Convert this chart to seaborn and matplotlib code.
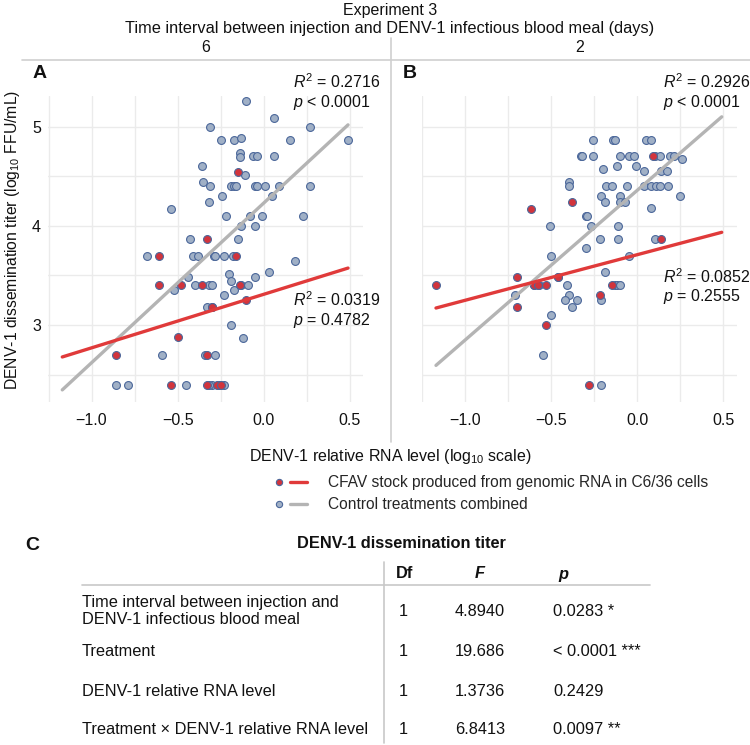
import numpy as np
import pandas as pd
import matplotlib
matplotlib.use("Agg")
import matplotlib.pyplot as plt
import seaborn as sns
from matplotlib.lines import Line2D
from matplotlib.legend_handler import HandlerTuple

# ---- data ----
# panel A (6 days)
a_ctrl_x = [-0.10, -0.31, 0.06, 0.27, -0.25, -0.17, -0.13, 0.15, 0.49, -0.14, -0.14, -0.06, -0.04, 0.06,
            -0.36, -0.11, -0.35, -0.31, -0.19, -0.17, -0.16, -0.05, -0.04, 0.01, 0.09, 0.27, 0.05, -0.24,
            -0.32, -0.54, -0.22, -0.08, -0.01, 0.23, -0.13, -0.05, -0.43, -0.15, -0.68, -0.41, -0.38, -0.29,
            -0.28, -0.23, -0.18, 0.18, -0.20, -0.44, -0.05, 0.03, -0.19, -0.40, -0.32, -0.30, -0.13, -0.09,
            -0.52, -0.17, -0.23, -0.33, -0.30, -0.19, -0.12, -0.59, -0.34, -0.28, -0.86, -0.79, -0.45, -0.30,
            -0.26, -0.23, -0.32]
a_ctrl_y = [5.26, 5.00, 5.09, 5.00, 4.87, 4.87, 4.89, 4.87, 4.87, 4.74, 4.69, 4.70, 4.70, 4.70,
            4.60, 4.51, 4.44, 4.40, 4.40, 4.40, 4.40, 4.40, 4.40, 4.40, 4.40, 4.40, 4.30, 4.30,
            4.24, 4.17, 4.10, 4.10, 4.10, 4.10, 4.00, 4.00, 3.87, 3.87, 3.70, 3.70, 3.70, 3.70,
            3.70, 3.70, 3.70, 3.65, 3.51, 3.48, 3.48, 3.54, 3.44, 3.40, 3.40, 3.40, 3.40, 3.40,
            3.35, 3.35, 3.30, 3.18, 3.18, 3.00, 2.87, 2.70, 2.70, 2.70, 2.40, 2.40, 2.40, 2.40,
            2.40, 2.40, 2.40]
a_cfav_x = [-0.15, -0.33, -0.61, -0.16, -0.61, -0.48, -0.36, -0.14, -0.10, -0.30, -0.50, -0.86, -0.33,
            -0.54, -0.33, -0.27, -0.25]
a_cfav_y = [4.54, 3.87, 3.70, 3.70, 3.40, 3.40, 3.40, 3.40, 3.25, 3.18, 2.88, 2.70, 2.70,
            2.40, 2.40, 2.40, 2.40]

# panel B (2 days)
b_ctrl_x = [-0.26, -0.14, -0.13, 0.05, 0.08, -0.33, -0.32, -0.26, -0.10, -0.05, -0.02, 0.10, 0.13, 0.19,
            0.21, 0.26, -0.20, -0.12, -0.01, 0.04, 0.14, 0.17, -0.40, -0.40, -0.18, -0.15, -0.06, 0.04,
            0.08, 0.11, 0.13, 0.18, 0.25, -0.21, -0.10, -0.19, -0.10, -0.07, 0.08, -0.30, -0.29, -0.51,
            -0.27, -0.11, -0.22, -0.11, 0.10, -0.30, -0.50, -0.05, -0.19, -0.46, -0.41, -0.60, -0.57, -0.13,
            -0.12, -0.10, -0.71, -0.40, -0.42, -0.35, -0.21, -0.38, -0.50, -0.55, -0.21]
b_ctrl_y = [4.87, 4.87, 4.87, 4.87, 4.87, 4.70, 4.70, 4.70, 4.70, 4.70, 4.70, 4.70, 4.70, 4.70,
            4.70, 4.67, 4.57, 4.60, 4.60, 4.55, 4.55, 4.55, 4.44, 4.40, 4.40, 4.40, 4.40, 4.40,
            4.40, 4.40, 4.40, 4.40, 4.30, 4.30, 4.30, 4.24, 4.24, 4.24, 4.18, 4.10, 4.10, 4.00,
            4.00, 4.00, 3.87, 3.87, 3.87, 3.78, 3.70, 3.70, 3.54, 3.48, 3.40, 3.40, 3.40, 3.40,
            3.40, 3.40, 3.30, 3.30, 3.25, 3.25, 3.25, 3.18, 3.10, 2.70, 2.40]
b_cfav_x = [0.09, -0.38, -0.62, 0.14, -0.46, -0.70, -1.17, -0.60, -0.58, -0.53, -0.15, -0.22, -0.70,
            -0.53, -0.28]
b_cfav_y = [4.70, 4.24, 4.17, 3.87, 3.48, 3.48, 3.40, 3.40, 3.40, 3.40, 3.40, 3.30, 3.18,
            3.00, 2.40]

# fitted lines (intercept, slope) per panel / group
fit_intercept = {"A": {"cfav": 3.31, "ctrl": 4.23}, "B": {"cfav": 3.71, "ctrl": 4.36}}
fit_slope = {"A": {"cfav": 0.54, "ctrl": 1.61}, "B": {"cfav": 0.46, "ctrl": 1.51}}
stats_top = {"A": ("0.2716", "< 0.0001"), "B": ("0.2926", "< 0.0001")}
stats_low = {"A": ("0.0319", "= 0.4782"), "B": ("0.0852", "= 0.2555")}
intervals = {"A": "6", "B": "2"}

# ANOVA table
tab_terms = ["Time interval between injection and\nDENV-1 infectious blood meal", "Treatment",
             "DENV-1 relative RNA level", "Treatment \u00d7 DENV-1 relative RNA level"]
tab_df = ["1", "1", "1", "1"]
tab_F = ["4.8940", "19.686", "1.3736", "6.8413"]
tab_p = ["0.0283 *", "< 0.0001 ***", "0.2429", "0.0097 **"]

legend_labels = ["CFAV stock produced from genomic RNA in C6/36 cells", "Control treatments combined"]

frames = []
for panel, (cx, cy, rx, ry) in {"A": (a_ctrl_x, a_ctrl_y, a_cfav_x, a_cfav_y),
                                 "B": (b_ctrl_x, b_ctrl_y, b_cfav_x, b_cfav_y)}.items():
    frames.append(pd.DataFrame({"x": cx, "y": cy, "group": "ctrl", "panel": panel}))
    frames.append(pd.DataFrame({"x": rx, "y": ry, "group": "cfav", "panel": panel}))
df = pd.concat(frames, ignore_index=True)

# ---- style ----
sns.set_theme(style="white")
plt.rcParams["font.family"] = ["Liberation Sans", "DejaVu Sans"]
plt.rcParams["mathtext.fontset"] = "custom"
plt.rcParams["mathtext.rm"] = "Liberation Sans"
plt.rcParams["mathtext.it"] = "Liberation Sans:italic"
plt.rcParams["mathtext.bf"] = "Liberation Sans:bold"

pt_gray = "#a0b0c6"
pt_red = "#d2343c"
pt_edge = "#4b679a"
ln_red = "#e03a3a"
ln_gray = "#b4b4b4"
grid_c = "#ebebeb"
txt = "#111111"
fs = 11.5

W, H = 750, 745
fig = plt.figure(figsize=(7.5, 7.45), dpi=100)


def fx(px):
    return px / W


def fy(py):
    return 1 - py / H


def box(l, t, r, b):
    return [fx(l), fy(b), (r - l) / W, (b - t) / H]


x_lo = df["x"].min()
x_hi = df["x"].max()
panel_box = {"A": (48, 96, 363, 402), "B": (421.7, 96, 736.7, 402)}

for panel in ["A", "B"]:
    l, t, r, b = panel_box[panel]
    ax = fig.add_axes(box(l, t, r, b))
    sub = df[df["panel"] == panel]
    sns.scatterplot(data=sub[sub["group"] == "ctrl"], x="x", y="y", ax=ax, color=pt_gray,
                    edgecolor=pt_edge, linewidth=0.8, s=32, zorder=3, legend=False)
    sns.scatterplot(data=sub[sub["group"] == "cfav"], x="x", y="y", ax=ax, color=pt_red,
                    edgecolor=pt_edge, linewidth=0.8, s=32, zorder=4, legend=False)
    xs = np.array([x_lo, x_hi])
    for grp, col in [("ctrl", ln_gray), ("cfav", ln_red)]:
        ys = fit_intercept[panel][grp] + fit_slope[panel][grp] * xs
        sns.lineplot(x=xs, y=ys, ax=ax, color=col, linewidth=2.4, zorder=5)

    ax.set_xlim(-1.253, 0.577)
    ax.set_ylim(2.224, 5.31)
    ax.set_xticks([-1.0, -0.5, 0.0, 0.5])
    ax.set_xticklabels(["\u22121.0", "\u22120.5", "0.0", "0.5"])
    ax.set_xticks([-1.25, -0.75, -0.25, 0.25], minor=True)
    ax.set_yticks([3, 4, 5])
    ax.set_yticks([2.5, 3.5, 4.5], minor=True)
    if panel == "A":
        ax.set_yticklabels(["3", "4", "5"])
    else:
        ax.set_yticklabels([])
    ax.grid(True, which="both", color=grid_c, linewidth=1.0)
    ax.set_axisbelow(True)
    ax.tick_params(which="both", length=0, labelsize=fs, colors=txt, pad=5)
    ax.tick_params(axis="x", pad=8)
    for s in ax.spines.values():
        s.set_visible(False)
    ax.set_xlabel("")
    ax.set_ylabel("")
    ax.patch.set_alpha(0)

    # strip label + panel letter
    fig.text(fx((l + r) / 2), fy(47), intervals[panel], ha="center", va="center", fontsize=fs, color=txt)
    fig.text(fx(l - 15 if panel == "A" else l - 19), fy(73), panel, ha="left", va="center",
             fontsize=14, fontweight="bold", color=txt)

    # stats
    tx = 293 if panel == "A" else 663
    up = stats_top[panel]
    lo = stats_low[panel]
    low_y = 300 if panel == "A" else 277
    fig.text(fx(tx), fy(82), r"$\mathit{R}^2$ = " + up[0], ha="left", va="center", fontsize=fs, color=txt)
    fig.text(fx(tx), fy(102), r"$\mathit{p}$ " + up[1], ha="left", va="center", fontsize=fs, color=txt)
    fig.text(fx(tx), fy(low_y), r"$\mathit{R}^2$ = " + lo[0], ha="left", va="center", fontsize=fs, color=txt)
    fig.text(fx(tx), fy(low_y + 20), r"$\mathit{p}$ " + lo[1], ha="left", va="center", fontsize=fs, color=txt)

# headers
fig.text(fx(390), fy(11), "Experiment 3", ha="center", va="center", fontsize=fs, color=txt)
fig.text(fx(390), fy(29), "Time interval between injection and DENV-1 infectious blood meal (days)",
         ha="center", va="center", fontsize=11.8, color=txt)
fig.add_artist(Line2D([fx(22), fx(750)], [fy(60), fy(60)], color="#cfcfcf", lw=1.2))
fig.add_artist(Line2D([fx(391), fx(391)], [fy(38), fy(442)], color="#cfcfcf", lw=1.2))

# axis titles
fig.text(fx(13), fy(240), r"DENV-1 dissemination titer (log$_{10}$ FFU/mL)", rotation=90,
         ha="center", va="center", fontsize=11.3, color=txt)
fig.text(fx(390), fy(457), r"DENV-1 relative RNA level (log$_{10}$ scale)", ha="center", va="center",
         fontsize=fs, color=txt)

# legend
red_dot = Line2D([], [], ls="none", marker="o", ms=4.5, mfc=pt_red, mec=pt_edge, mew=0.8)
gray_dot = Line2D([], [], ls="none", marker="o", ms=4.5, mfc=pt_gray, mec=pt_edge, mew=0.8)
red_ln = Line2D([], [], color=ln_red, lw=2.4)
gray_ln = Line2D([], [], color=ln_gray, lw=2.4)
fig.legend(handles=[(red_dot, red_ln), (gray_dot, gray_ln)], labels=legend_labels,
           handler_map={tuple: HandlerTuple(ndivide=None, pad=0.2)},
           loc="upper left", bbox_to_anchor=(fx(270), fy(475)), frameon=False, fontsize=11.2,
           handlelength=2.4, handletextpad=1.3, labelspacing=0.45, borderpad=0, borderaxespad=0)

# ---- table C ----
tfs = 11.8
fig.text(fx(25), fy(545), "C", ha="left", va="center", fontsize=14, fontweight="bold", color=txt)
fig.text(fx(401), fy(544), "DENV-1 dissemination titer", ha="center", va="center", fontsize=tfs,
         fontweight="bold", color=txt)
fig.text(fx(405), fy(574), "Df", ha="center", va="center", fontsize=tfs, fontweight="bold", color=txt)
fig.text(fx(480), fy(574), "F", ha="center", va="center", fontsize=tfs, fontweight="bold", style="italic",
         color=txt)
fig.text(fx(563), fy(574), "p", ha="center", va="center", fontsize=tfs, fontweight="bold", style="italic",
         color=txt)
fig.add_artist(Line2D([fx(82), fx(650)], [fy(585), fy(585)], color="#c8c8c8", lw=1.2))
fig.add_artist(Line2D([fx(384), fx(384)], [fy(562), fy(743)], color="#c8c8c8", lw=1.2))

row_y = [611, 651, 691, 730]
for i in range(len(tab_terms)):
    fig.text(fx(82), fy(row_y[i]), tab_terms[i], ha="left", va="center", fontsize=tfs,
             color=txt, linespacing=1.15)
    fig.text(fx(403), fy(row_y[i]), tab_df[i], ha="center", va="center", fontsize=tfs, color=txt)
    fig.text(fx(480), fy(row_y[i]), tab_F[i], ha="center", va="center", fontsize=tfs, color=txt)
    fig.text(fx(553), fy(row_y[i]), tab_p[i], ha="left", va="center", fontsize=tfs, color=txt)

fig.savefig("out.png", dpi=100)
